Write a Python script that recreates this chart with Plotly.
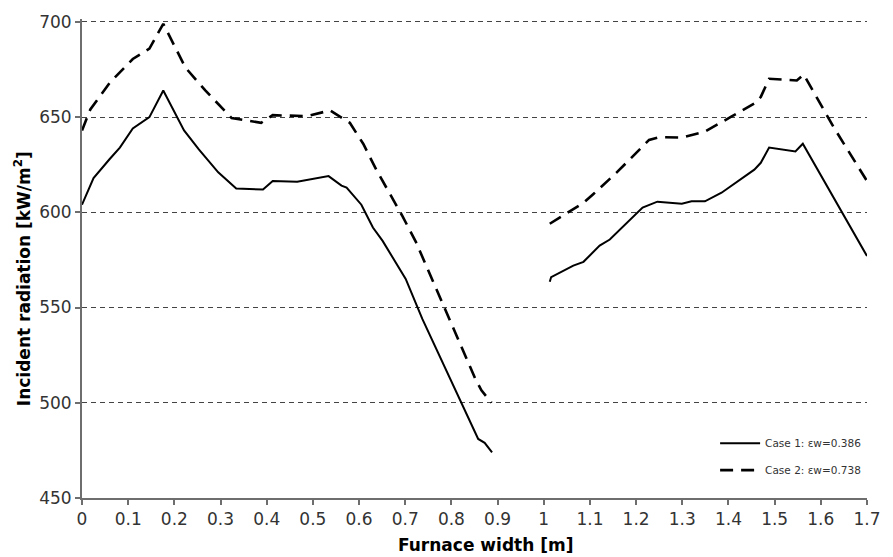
import plotly.graph_objects as go

# Incident radiation along the furnace width (two wall emissivity cases).
# None marks the gap between the two measured wall sections.
case1_x = [0.000, 0.025, 0.060, 0.082, 0.110, 0.146, 0.176, 0.221, 0.253, 0.295,
           0.334, 0.392, 0.413, 0.466, 0.534, 0.562, 0.573, 0.605, 0.630, 0.651,
           0.701, 0.737, 0.858, 0.872, 0.888, None,
           1.013, 1.016, 1.064, 1.086, 1.121, 1.143, 1.214, 1.246, 1.299, 1.320,
           1.349, 1.385, 1.456, 1.470, 1.488, 1.545, 1.561, 1.700]
case1_y = [604, 618, 628, 634, 644, 650, 664, 643, 633, 621,
           612.5, 612, 616.5, 616, 619, 614, 613, 604, 592, 585,
           565, 544, 481, 479, 474, None,
           563.5, 566, 572, 574, 582.5, 585.7, 602.5, 605.6, 604.5, 605.8,
           605.8, 610.3, 622.4, 626, 634, 632, 636, 577]

case2_x = [0.000, 0.018, 0.060, 0.110, 0.146, 0.176, 0.224, 0.267, 0.324, 0.388,
           0.413, 0.466, 0.488, 0.537, 0.559, 0.580, 0.609, 0.637, 0.666, 0.694,
           0.723, 0.758, 0.794, 0.851, 0.865, 0.887, None,
           1.013, 1.086, 1.107, 1.157, 1.228, 1.249, 1.299, 1.349, 1.406, 1.456,
           1.470, 1.488, 1.548, 1.563, 1.627, 1.700]
case2_y = [643, 654, 668, 680.5, 686, 699, 676, 664, 649.5, 647,
           651, 650.5, 650.5, 653.5, 650, 647, 636, 622.5, 610, 598,
           584.5, 565, 544.5, 513, 506.5, 500, None,
           594, 605, 609.5, 620.7, 638, 639.4, 639.3, 642.4, 650.2, 657.1,
           660.6, 670.1, 669.2, 672.3, 645, 616.4]

case_names = ["Case 1: εw=0.386", "Case 2: εw=0.738"]

x_ticks = [round(0.1 * i, 1) for i in range(18)]
y_ticks = [450, 500, 550, 600, 650, 700]

fig = go.Figure()
fig.add_trace(go.Scatter(
    x=case1_x, y=case1_y, mode="lines", name=case_names[0],
    legendgroup="c1", connectgaps=False,
    line=dict(color="black", width=2, dash="solid"),
))
fig.add_trace(go.Scatter(
    x=case2_x, y=case2_y, mode="lines", name=case_names[1],
    legendgroup="c2", connectgaps=False,
    line=dict(color="black", width=2.6, dash="13px,8px"),
))

tick_font = dict(family="DejaVu Sans", size=17, color="#333333")
title_font = dict(family="DejaVu Sans", size=17, color="black")

fig.update_layout(
    width=893, height=557,
    margin=dict(l=82, r=15, t=15, b=59),
    paper_bgcolor="white", plot_bgcolor="white",
    showlegend=True,
    legend=dict(
        x=0.8065, y=0.1448, xanchor="left", yanchor="top",
        bgcolor="rgba(0,0,0,0)", borderwidth=0,
        font=dict(family="DejaVu Sans", size=10.5, color="#333333"),
        tracegroupgap=8, itemwidth=40,
    ),
    annotations=[
        dict(text="<b>Furnace width [m]</b>", xref="paper", yref="paper",
             x=0.5138, y=-0.0973, xanchor="center", yanchor="middle",
             showarrow=False, font=title_font),
        dict(text="<b>Incident radiation [kW/m<sup>2</sup>]</b>",
             xref="paper", yref="paper", x=-0.0754, y=0.4586,
             xanchor="center", yanchor="middle", textangle=-90,
             showarrow=False, font=title_font),
    ],
)

fig.update_xaxes(
    range=[0, 1.7], tickvals=x_ticks, ticktext=[f"{v:g}" for v in x_ticks],
    showgrid=False, zeroline=False,
    showline=True, linecolor="#6e6e6e", linewidth=2,
    ticks="outside", ticklen=5, tickwidth=1.5, tickcolor="#6e6e6e",
    tickfont=tick_font,
)
fig.update_yaxes(
    range=[450, 701.5], tickvals=y_ticks,
    showgrid=True, gridcolor="#444444", gridwidth=1.2, griddash="5px,4px",
    zeroline=False,
    showline=True, linecolor="#6e6e6e", linewidth=2,
    ticks="outside", ticklen=5, tickwidth=1.5, tickcolor="#6e6e6e",
    tickfont=tick_font,
)

fig.write_html("out.html")
